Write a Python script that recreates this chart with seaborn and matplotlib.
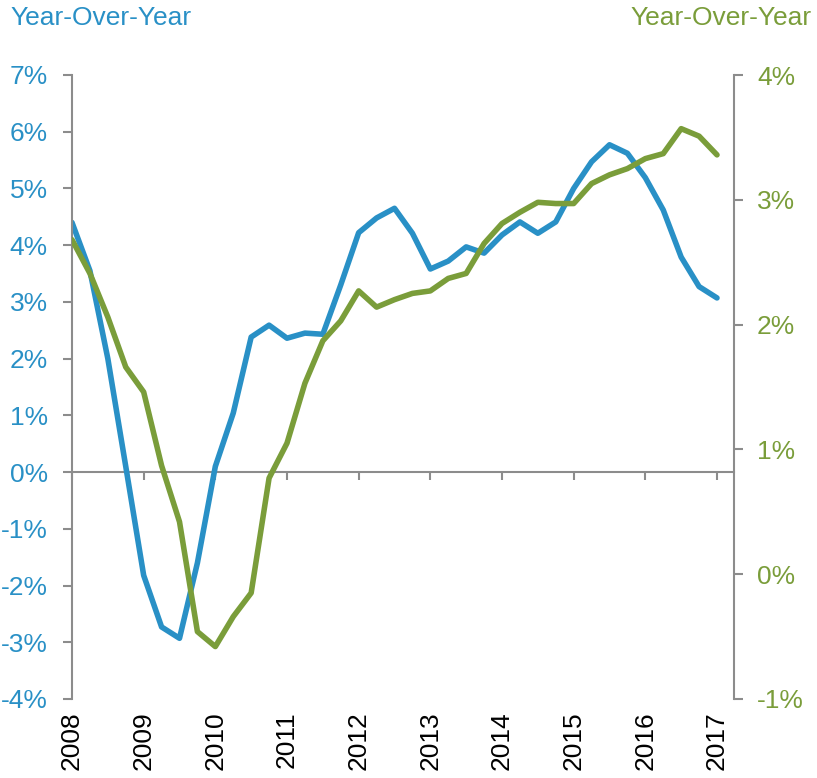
import numpy as np
import pandas as pd
import matplotlib
matplotlib.use("Agg")
import matplotlib.pyplot as plt
import seaborn as sns

# quarterly, 2008Q1 .. 2017Q1
quarters = pd.period_range("2008Q1", "2017Q1", freq="Q")

# left axis series (blue)
blue_vals = [4.40, 3.55, 2.00, 0.10,
             -1.82, -2.73, -2.93, -1.60,
             0.10, 1.04, 2.38, 2.59,
             2.36, 2.45, 2.43, 3.30,
             4.22, 4.48, 4.65, 4.21,
             3.58, 3.72, 3.97, 3.86,
             4.18, 4.41, 4.21, 4.41,
             5.00, 5.47, 5.77, 5.62,
             5.19, 4.62, 3.79, 3.27,
             3.07]

# right axis series (green)
green_vals = [2.68, 2.41, 2.06, 1.66,
              1.46, 0.87, 0.42, -0.46,
              -0.58, -0.34, -0.15, 0.77,
              1.05, 1.53, 1.87, 2.03,
              2.27, 2.14, 2.20, 2.25,
              2.27, 2.37, 2.41, 2.65,
              2.81, 2.90, 2.98, 2.97,
              2.97, 3.13, 3.20, 3.25,
              3.33, 3.37, 3.57, 3.51,
              3.36]

years = list(range(2008, 2018))
left_ticks = list(range(-4, 8))
right_ticks = list(range(-1, 5))
title_text = "Year-Over-Year"

BLUE = "#2990C6"
GREEN = "#7A9D3A"
GREY = "#8C8C8C"
FS = 19

sns.set_style("white")
plt.rcParams["font.family"] = ["Liberation Sans", "DejaVu Sans"]

df = pd.DataFrame({
    "t": quarters.year + (quarters.quarter - 1) / 4.0,
    "blue": blue_vals,
    "green": green_vals,
})

fig = plt.figure(figsize=(8.17, 7.78), dpi=100)
ax = fig.add_axes([72 / 817, 79 / 778, 662 / 817, 624 / 778])
ax2 = ax.twinx()

sns.lineplot(data=df, x="t", y="blue", ax=ax, color=BLUE, lw=4)
sns.lineplot(data=df, x="t", y="green", ax=ax2, color=GREEN, lw=4)

px_per_year = 645 / 9
ax.set_xlim(2008, 2008 + 662 / px_per_year)
ax.set_ylim(-4, 7)
ax2.set_ylim(-1, 4)

for a in (ax, ax2):
    a.set_xlabel("")
    a.set_ylabel("")
    a.grid(False)
    for s in a.spines.values():
        s.set_visible(False)

# left axis
ax.spines["left"].set_visible(True)
ax.spines["left"].set_color(GREY)
ax.spines["left"].set_linewidth(1.5)
ax.set_yticks(left_ticks)
ax.set_yticklabels([f"{v}%" for v in left_ticks])
ax.tick_params(axis="y", direction="out", length=6.5, width=1.5, color=GREY,
               labelcolor=BLUE, labelsize=FS, pad=11, left=True)

# right axis
ax2.spines["right"].set_visible(True)
ax2.spines["right"].set_color(GREY)
ax2.spines["right"].set_linewidth(1.5)
ax2.set_yticks(right_ticks)
ax2.set_yticklabels([f"{v}%" for v in right_ticks])
ax2.tick_params(axis="y", direction="out", length=6.5, width=1.5, color=GREY,
                labelcolor=GREEN, labelsize=FS, pad=10, right=True)

# year labels at bottom, no tick marks
ax.set_xticks(years)
ax.set_xticklabels([str(y) for y in years], rotation=90, va="top")
ax.tick_params(axis="x", length=0, labelsize=FS, labelcolor="black", pad=9)

# zero line with tick marks hanging down
zero_frac = (0 - (-4)) / 11
sec = ax.secondary_xaxis(zero_frac)
sec.set_xticks(years)
sec.set_xticklabels([])
sec.spines["bottom"].set_color(GREY)
sec.spines["bottom"].set_linewidth(1.5)
sec.tick_params(axis="x", direction="out", length=6, width=1.5, color=GREY)

fig.text(10 / 817, 1 - 18 / 778, title_text, color=BLUE, fontsize=FS,
         ha="left", va="center")
fig.text(812 / 817, 1 - 18 / 778, title_text, color=GREEN, fontsize=FS,
         ha="right", va="center")

fig.savefig("out.png", dpi=100, facecolor="white")
